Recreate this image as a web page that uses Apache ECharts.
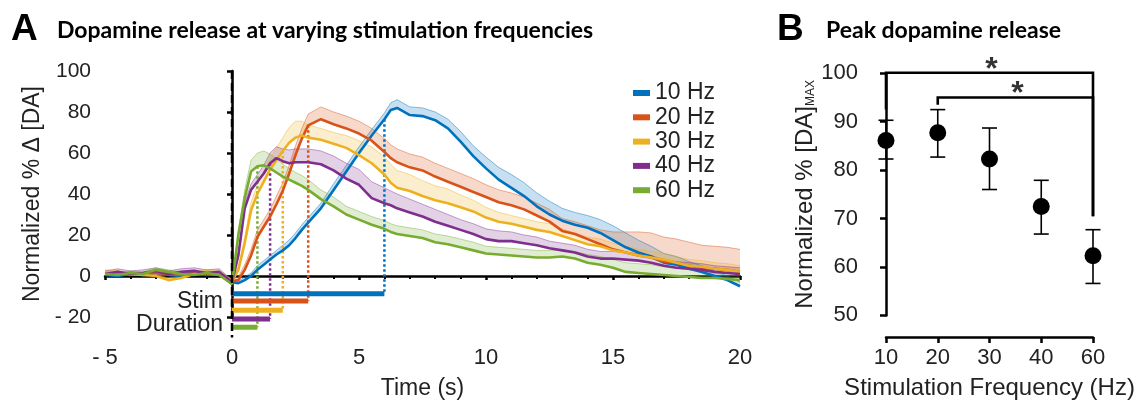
<!DOCTYPE html>
<html><head><meta charset="utf-8">
<script src="https://cdn.jsdelivr.net/npm/echarts@6/dist/echarts.min.js"></script>
<style>html,body{margin:0;padding:0;background:#fff}#c{width:1144px;height:405px}</style>
</head><body><div id="c"></div>
<script>
// ---------- Panel A data ----------
const times = [-5,-4.5,-4,-3.5,-3,-2.5,-2,-1.5,-1,-0.5,0,
  0.25,0.5,0.75,1,1.25,1.5,1.75,2,2.25,2.5,2.75,3,
  3.5,4,4.5,5,5.5,6,6.25,6.5,
  7,7.5,8,8.5,9,9.5,10,10.5,11,11.5,12,12.5,13,13.5,14,14.5,15,15.5,16,16.5,17,17.5,18,18.5,19,19.5,20];
const freqNames = ['10 Hz','20 Hz','30 Hz','40 Hz','60 Hz'];
const stimDurations = [6, 3, 2, 1.5, 1];
const mean10 = [0.5,0,1,0.5,1.5,0.5,0,1,0.5,1,-3,
  -3.5,-2,0,3,5.5,8,10.5,12.5,15,18.5,22.5,26,
  33,42,51,60,68.5,76.5,81,82,
  78.5,78,76,72,65.5,58.5,52.5,47,43,39,34,30,27,25,23.5,21,17.5,14,11.5,9.5,6.5,5.5,3.5,2,0,-2,-5];
const sem10 = [1.2,1.2,1.2,1.2,1.2,1.2,1.2,1.2,1.2,1.2,1,
  1,1.5,1.5,2,2,2,2,2.5,2.5,2.5,2.5,2.5,
  2.5,3,3,3,3,3,3.5,4,
  4,4,4,4.5,5,5,5.5,6,6.5,6.5,6.5,6.5,6,6,6,6.5,7,7,6,5,4.5,4,3.5,3,2.5,2,2];
const mean20 = [1,1.5,0.5,1,1.5,1,0.5,1.5,1,0.5,-2.5,
  -2,3,10,19,24,29,35,41.5,50,59,67,73.5,
  76.5,74,72,69.5,66,60.5,57.5,55.5,
  53,51.5,48.5,46,43.5,41,38.5,36,34.5,32.5,29.5,26.5,22,20.5,18,15.5,13,11.5,10,9,7,6.5,5,4,3.5,3,2];
const sem20 = [1,1,1,1,1,1,1,1,1,1,1,
  1.5,2.5,3,3.5,3.5,3.5,4,4,4,4.5,5,5.5,
  6,6,6,6,6,6.5,6.5,6.5,
  6.5,6.5,6.5,6.5,6.5,6.5,6,6,6,6,6,6,6,6,6.5,7,8.5,10,11.5,12,12,11.5,11.5,11,11,11,11];
const mean30 = [2,1.5,1,0.5,0,-2,-1,1,2,1.5,-2.5,
  3,16,32,40,46,52,56.5,61,65,67.5,68.5,67.5,
  66.5,64.5,62.5,59,55,49.5,45.5,43,
  41.5,39,37,35.5,33.5,31.5,28.5,26.5,25.5,24,22.5,21.5,19.5,17.5,15.5,14.5,12.5,11.5,10,9,8,6.5,5,4.5,3.5,3,2];
const sem30 = [1,1,1,1,1,1,1,1,1,1,1,
  1.5,3,4,4.5,5,5.5,6,6.5,7.5,8,7,6,
  5.5,5.5,6,7,8,8.5,9,8.5,
  8,7.5,7,7,6,5.5,5,4.5,4,4,4,4,3.5,3.5,3.5,3.5,3.5,3,3,3,3,3,3,3,3,3,3];
const mean40 = [1,2,1,1.5,2.5,1,2,2.5,1.5,2,-3,
  10,33,42,46,50,55,57.5,56,55,55.5,55.5,55.5,
  54.5,51.5,47.5,44.5,38,35.5,34.5,33,
  31,29,26.5,24.5,22.5,20.5,18,17,17,16,15,13.5,12.5,11.5,9.5,8.5,8.5,8,7.5,6.5,5,4,3.5,3,2,1.5,1];
const sem40 = [1.5,1.5,1.5,1.5,1.5,1.5,1.5,1.5,1.5,1.5,1,
  2,3,3,3.5,4,5,5.5,6,6.5,6.5,6.5,6.5,
  6.5,7,7.5,7.5,8,7.5,7,7,
  6.5,6,6,5.5,5,5,5,5,4.5,4,4,3.5,3.5,3.5,3.5,3.5,3.5,3.5,3.5,3.5,3,3,3,3,3,3,3];
const mean60 = [1,0.5,1.5,1,3,2,1,0.5,1.5,0.5,-4,
  20,38,51,53.5,54,52.5,50.5,48.5,47,45.5,44,42,
  37.5,34,30,27.5,25,23,21.5,20.5,
  19.5,18.5,16.5,15.5,14,12.5,11,10.5,10,9.5,9,9,9.5,8.5,6.5,5.5,4,2,1.5,1,0.5,0,-0.5,-1,-1,-1.5,-2];
const sem60 = [1,1,1,1,1,1,1,1,1,1,1,
  2,4,5.5,6.5,7,7,6.5,6,5.5,5,5,5,
  4.5,4.5,4,4,4,4,4,4,
  4,4,4,4,4,4,3.5,3.5,3.5,3.5,3.5,3.5,3.5,3.5,4,4,4,4.5,4.5,4.5,4,4,3.5,3.5,3,3,3];
const yTicksA = [-20, 0, 20, 40, 60, 80, 100];

// ---------- Panel B data ----------
const freqLabels = ['10','20','30','40','60'];
const peakMean  = [86.1, 87.7, 82.3, 72.5, 62.3];
const peakUpper = [90.3, 92.5, 88.7, 77.9, 67.7];
const peakLower = [82.3, 82.7, 76.0, 66.8, 56.6];
// significance brackets: [from index, to index, top, left leg end, right leg end]
const sigBrackets = [[0, 4, 100.1, 92.5, 70.5], [1, 4, 95, 93.5, 70.5]];

// ---------- styles ----------
const colors = ['#0072BD','#D95319','#EDB120','#7E2F8E','#77AC30'];
const stimLevels = [-8.7, -12.2, -16.7, -21, -25];
const FONT = "'Liberation Sans', Arial, sans-serif";
const TXT = '#222';
function rgba(hex, a) {
  const n = parseInt(hex.slice(1), 16);
  return `rgba(${(n>>16)&255},${(n>>8)&255},${n&255},${a})`;
}
const means = [mean10, mean20, mean30, mean40, mean60];
const sems = [sem10, sem20, sem30, sem40, sem60];

const series = [];
means.forEach((m, i) => {
  const s = sems[i];
  // SEM band (mean .. mean+sem)
  series.push({
    type: 'custom', xAxisIndex: 0, yAxisIndex: 0, silent: true, z: 2,
    data: [[times[0], m[0]]],
    renderItem: (params, api) => {
      const pts = [];
      for (let k = 0; k < times.length; k++) pts.push(api.coord([times[k], m[k] + s[k]]));
      for (let k = times.length - 1; k >= 0; k--) pts.push(api.coord([times[k], m[k]]));
      return { type: 'polygon', shape: { points: pts }, style: { fill: rgba(colors[i], 0.22), stroke: null } };
    }
  });
  // upper edge of band
  series.push({
    type: 'line', xAxisIndex: 0, yAxisIndex: 0, silent: true, z: 3, showSymbol: false,
    data: times.map((t, k) => [t, m[k] + s[k]]),
    lineStyle: { color: rgba(colors[i], 0.45), width: 1 }
  });
  // mean
  series.push({
    name: freqNames[i], type: 'line', xAxisIndex: 0, yAxisIndex: 0,
    data: times.map((t, k) => [t, m[k]]),
    showSymbol: false, z: 4, silent: true,
    lineStyle: { color: colors[i], width: 2.6 }, itemStyle: { color: colors[i] }
  });
});
// stim bars and dotted lines
stimDurations.forEach((d, i) => {
  const k = times.indexOf(d);
  series.push({
    type: 'line', xAxisIndex: 0, yAxisIndex: 0, clip: false, silent: true,
    data: [[0, stimLevels[i]], [d, stimLevels[i]]], showSymbol: false, z: 5,
    lineStyle: { color: colors[i], width: 5, cap: 'butt' }
  });
  series.push({
    type: 'line', xAxisIndex: 0, yAxisIndex: 0, clip: false, silent: true,
    data: [[d, means[i][k]], [d, stimLevels[i]]], showSymbol: false, z: 3,
    lineStyle: { color: colors[i], width: 2.5, type: [2.5, 2.5] }
  });
});
// dashed stimulus onset line
series.push({
  type: 'line', xAxisIndex: 0, yAxisIndex: 0, clip: false, silent: true,
  data: [[0, 100], [0, -30]], showSymbol: false, z: 6,
  lineStyle: { color: '#000', width: 2.5, type: [8, 4] }
});

// Panel B
series.push({
  type: 'custom', xAxisIndex: 1, yAxisIndex: 1, silent: true, z: 3,
  data: peakMean.map((v, i) => [i, peakLower[i], peakUpper[i]]),
  renderItem: (params, api) => {
    const x = api.value(0);
    const lo = api.coord([x, api.value(1)]);
    const hi = api.coord([x, api.value(2)]);
    const st = { stroke: '#000', lineWidth: 1.6 };
    return { type: 'group', children: [
      { type: 'line', shape: { x1: lo[0], y1: lo[1], x2: hi[0], y2: hi[1] }, style: st },
      { type: 'line', shape: { x1: lo[0]-7.5, y1: lo[1], x2: lo[0]+7.5, y2: lo[1] }, style: st },
      { type: 'line', shape: { x1: hi[0]-7.5, y1: hi[1], x2: hi[0]+7.5, y2: hi[1] }, style: st }
    ]};
  }
});
series.push({
  type: 'scatter', xAxisIndex: 1, yAxisIndex: 1, silent: true, z: 4,
  data: peakMean.map((v, i) => [i, v]), symbolSize: 17,
  itemStyle: { color: '#000', opacity: 1 }
});
sigBrackets.forEach(b => {
  series.push({
    type: 'line', xAxisIndex: 1, yAxisIndex: 1, clip: false, silent: true,
    data: [[b[0], b[3]], [b[0], b[2]], [b[1], b[2]], [b[1], b[4]]],
    showSymbol: false, lineStyle: { color: '#000', width: 2.6, join: 'miter' }
  });
});
series.push({
  type: 'scatter', xAxisIndex: 1, yAxisIndex: 1, clip: false, silent: true,
  data: sigBrackets.map(b => [(b[0] + b[1]) / 2, b[2]]), symbolSize: 1,
  itemStyle: { color: 'rgba(0,0,0,0)' },
  label: { show: true, position: 'inside', formatter: '*', offset: [2, -3],
    fontSize: 32, fontWeight: 'bold', color: '#000', fontFamily: FONT }
});

const axisLineStyle = { color: '#000', width: 2.5 };
const option = {
  animation: false,
  backgroundColor: '#fff',
  textStyle: { fontFamily: FONT },
  grid: [
    { left: 105, right: 404, top: 71, bottom: 86 },
    { left: 886, right: 51, top: 73.3, bottom: 88.3 }
  ],
  legend: {
    data: freqNames, orient: 'vertical', left: 633, top: 81.5, padding: 0,
    icon: 'rect', itemWidth: 17, itemHeight: 6, itemGap: 1.3,
    textStyle: { fontSize: 23, lineHeight: 23, color: TXT, fontFamily: FONT }
  },
  xAxis: [
    { type: 'value', gridIndex: 0, min: -5, max: 20, interval: 5, offset: 21,
      axisLine: { lineStyle: axisLineStyle },
      axisTick: { length: 4, lineStyle: { color: '#000', width: 2.5 } },
      minorTick: { show: true, splitNumber: 5, length: 3, lineStyle: { color: '#000', width: 2 } },
      splitLine: { show: false },
      axisLabel: { fontSize: 22, color: TXT, margin: 9, fontFamily: FONT,
        formatter: v => v < 0 ? '- ' + (-v) : String(v) },
      name: 'Time (s)', nameLocation: 'middle', nameGap: 39,
      nameTextStyle: { fontSize: 23, color: TXT, fontFamily: FONT } },
    { type: 'value', gridIndex: 1, min: 0, max: 4, interval: 1, offset: 21.6,
      axisLine: { lineStyle: axisLineStyle },
      axisTick: { length: 6, lineStyle: { color: '#000', width: 2.5 } },
      splitLine: { show: false },
      axisLabel: { fontSize: 22, color: TXT, margin: 10, fontFamily: FONT, formatter: v => freqLabels[v] },
      name: 'Stimulation Frequency (Hz)', nameLocation: 'middle', nameGap: 39,
      nameTextStyle: { fontSize: 24, color: TXT, fontFamily: FONT } }
  ],
  yAxis: [
    { type: 'value', gridIndex: 0, min: yTicksA[0], max: yTicksA[yTicksA.length-1], interval: 20, offset: 4,
      axisLine: { show: true, lineStyle: axisLineStyle },
      axisTick: { show: true, length: 5, lineStyle: { color: '#000', width: 2.5 } },
      splitLine: { show: false },
      axisLabel: { fontSize: 21, color: TXT, margin: 10, fontFamily: FONT,
        formatter: v => v < 0 ? '- ' + (-v) : String(v) },
      name: 'Normalized % Δ [DA]', nameLocation: 'middle', nameGap: 52,
      nameTextStyle: { fontSize: 23, color: TXT, fontFamily: FONT } },
    { type: 'value', gridIndex: 1, min: 50, max: 100, interval: 10, offset: 19,
      axisLine: { show: true, lineStyle: axisLineStyle },
      axisTick: { show: true, length: 6, lineStyle: { color: '#000', width: 2.5 } },
      splitLine: { show: false },
      axisLabel: { fontSize: 22, color: TXT, margin: 9, fontFamily: FONT },
      name: '{a|Normalized % [DA]}{b|MAX}', nameLocation: 'middle', nameGap: 50,
      nameTextStyle: { color: TXT, rich: {
        a: { fontSize: 24, color: TXT, fontFamily: FONT },
        b: { fontSize: 12, color: TXT, fontFamily: FONT, verticalAlign: 'bottom', lineHeight: 12 } } } }
  ],
  graphic: [
    { type: 'text', left: 11, top: 11, style: { text: 'A', font: 'bold 37px ' + FONT, fill: '#000' } },
    { type: 'text', left: 57, top: 19, style: { text: 'Dopamine release at varying stimulation frequencies', font: 'bold 23px Lato, sans-serif', fill: '#000' } },
    { type: 'text', left: 777, top: 11, style: { text: 'B', font: 'bold 37px ' + FONT, fill: '#000' } },
    { type: 'text', left: 826, top: 19, style: { text: 'Peak dopamine release', font: 'bold 23px Lato, sans-serif', fill: '#000' } },
    { type: 'text', right: 1144 - 223, top: 290, style: { text: 'Stim', font: '23px ' + FONT, fill: TXT, textAlign: 'right' } },
    { type: 'text', right: 1144 - 223, top: 313, style: { text: 'Duration', font: '23px ' + FONT, fill: TXT, textAlign: 'right' } }
  ],
  series: series
};
const chart = echarts.init(document.getElementById('c'), null, { renderer: 'canvas' });
chart.setOption(option);
</script></body></html>
